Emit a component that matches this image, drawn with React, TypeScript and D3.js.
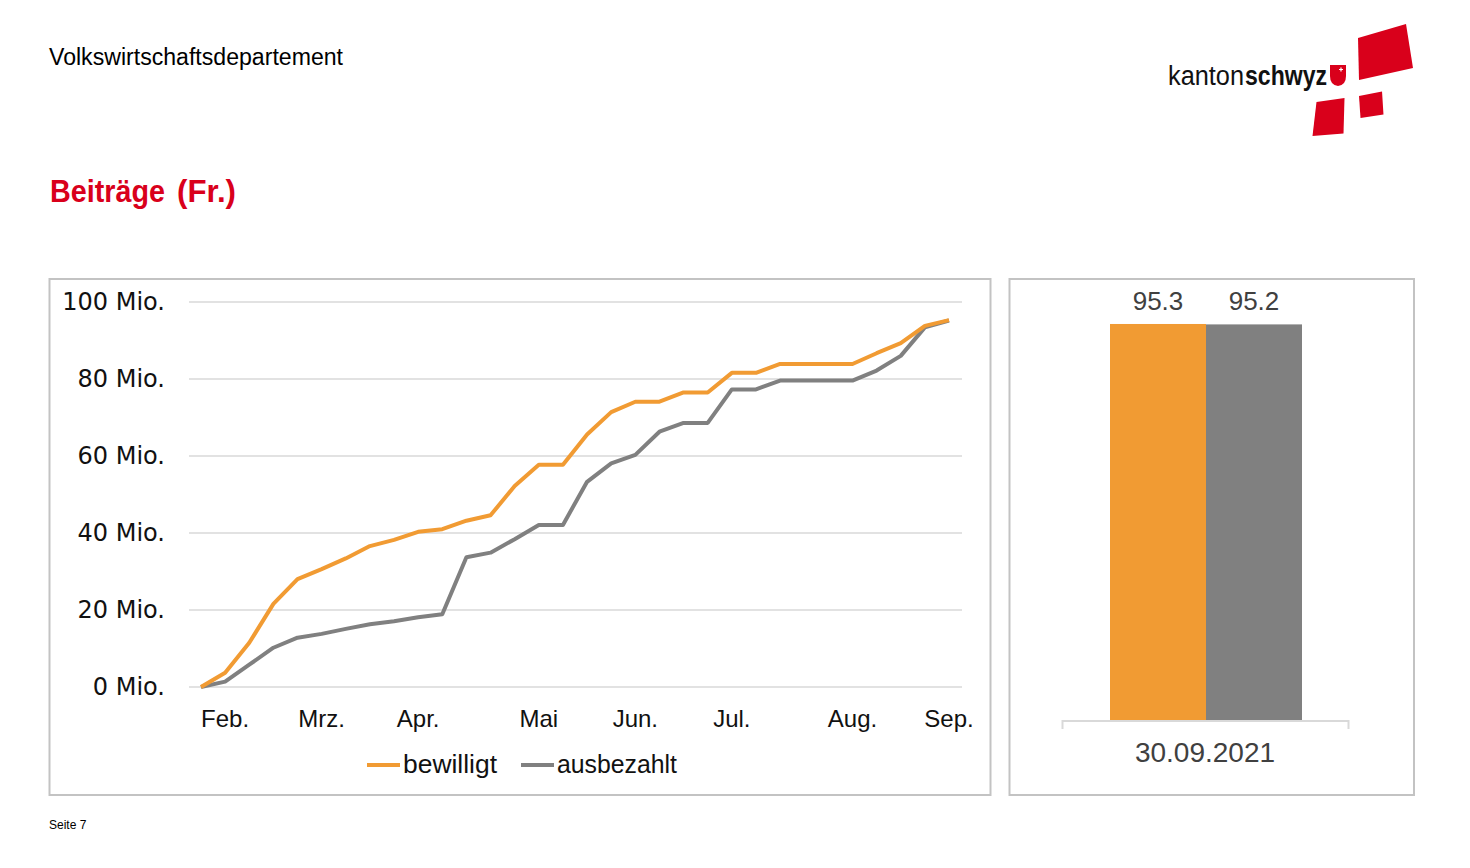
import React from 'react'
import * as d3 from 'd3'

// kumulierte Beiträge in Mio. Fr., wöchentlich
const bewilligt = [0, 3.7, 11.5, 21.6, 28.0, 30.6, 33.4, 36.6, 38.2, 40.3, 41.0, 43.2, 44.6, 52.2, 57.7, 57.7,
    65.6, 71.4, 74.1, 74.1, 76.5, 76.5, 81.6, 81.6, 83.9, 83.9, 83.9, 83.9, 86.7, 89.3, 93.8, 95.3]
const ausbezahlt = [0, 1.4, 5.8, 10.2, 12.8, 13.8, 15.1, 16.3, 17.1, 18.1, 18.9, 33.7, 34.9, 38.4, 42.1, 42.1,
    53.3, 58.1, 60.3, 66.3, 68.6, 68.6, 77.3, 77.3, 79.6, 79.6, 79.6, 79.6, 82.2, 86.0, 93.4, 95.2]

const monthLabels = ['Feb.', 'Mrz.', 'Apr.', 'Mai', 'Jun.', 'Jul.', 'Aug.', 'Sep.']
const monthTickIndex = [1, 5, 9, 14, 18, 22, 27, 31]
const yTicks = [0, 20, 40, 60, 80, 100]

const seriesNames = ['bewilligt', 'ausbezahlt']
const totals = [95.3, 95.2]
const totalDate = '30.09.2021'

const ORANGE = '#f19b33'
const GRAY = '#808080'
const GRID = '#d9d9d9'
const BORDER = '#c3c3c3'
const RED = '#d9001b'

const sans = '"Liberation Sans", Arial, sans-serif'

const App = () => {
    const x = d3.scaleLinear().domain([0, bewilligt.length - 1]).range([201, 949])
    const y = d3.scaleLinear().domain([0, 100]).range([687, 302])

    const line = d3.line<number>()
        .x((d, i) => x(i))
        .y(d => y(d))

    const bx = d3.scaleBand().domain(seriesNames).range([1110, 1302]).padding(0)
    const by = d3.scaleLinear().domain([0, 100]).range([721, 304.4])
    const colors = [ORANGE, GRAY]

    return (
        <svg width={1470} height={868} style={{ position: 'absolute', left: 0, top: 0, background: '#fff' }}>
            {/* Kopfzeile */}
            <text x={49} y={65} fontFamily={sans} fontSize={23} fill="#000"
                textLength={294} lengthAdjust="spacingAndGlyphs">Volkswirtschaftsdepartement</text>
            <text x={50} y={202} fontFamily={sans} fontSize={31} fontWeight="bold" fill={RED}
                textLength={115} lengthAdjust="spacingAndGlyphs">Beiträge</text>
            <text x={177} y={202} fontFamily={sans} fontSize={31} fontWeight="bold" fill={RED}
                textLength={59} lengthAdjust="spacingAndGlyphs">(Fr.)</text>

            {/* Logo */}
            <text x={1168} y={85} fontFamily={sans} fontSize={27} fill="#111"
                textLength={76} lengthAdjust="spacingAndGlyphs">kanton</text>
            <text x={1245} y={85} fontFamily={sans} fontSize={27} fontWeight="bold" fill="#111"
                textLength={82} lengthAdjust="spacingAndGlyphs">schwyz</text>
            <path d="M1330,65 L1346,65 L1346,76 Q1346,85 1338,86 Q1330,85 1330,76 Z" fill={RED} />
            <path d="M1341,67.5 L1341,71.5 M1339,69.5 L1343,69.5" stroke="#fff" strokeWidth={1.2} />
            <polygon points="1358,38 1406,24 1413,68 1359,80" fill={RED} />
            <polygon points="1316.5,102 1344.5,98 1343.5,133.5 1312.5,136" fill={RED} />
            <polygon points="1359,96 1382,91.5 1383.5,114.5 1360.5,118" fill={RED} />

            {/* Linienchart */}
            <rect x={49.5} y={279} width={941} height={516} fill="none" stroke={BORDER} strokeWidth={2} />
            {yTicks.map(t => (
                <g key={t}>
                    <line x1={189} x2={962} y1={y(t)} y2={y(t)} stroke={GRID} strokeWidth={1.5} />
                    <text x={165} y={y(t) - 1} dy="0.36em" textAnchor="end"
                        fontFamily='"DejaVu Sans", Verdana, sans-serif' fontSize={24} fill="#111">{t} Mio.</text>
                </g>
            ))}
            {monthTickIndex.map((idx, k) => (
                <text key={idx} x={x(idx)} y={727} textAnchor="middle" fontFamily={sans} fontSize={24} fill="#111">
                    {monthLabels[k]}
                </text>
            ))}
            <path d={line(ausbezahlt) || ''} fill="none" stroke={GRAY} strokeWidth={4} strokeLinejoin="round" />
            <path d={line(bewilligt) || ''} fill="none" stroke={ORANGE} strokeWidth={4} strokeLinejoin="round" />

            {/* Legende */}
            <line x1={367} x2={400} y1={765} y2={765} stroke={ORANGE} strokeWidth={4} />
            <text x={403} y={773} fontFamily={sans} fontSize={25} fill="#111"
                textLength={94} lengthAdjust="spacingAndGlyphs">{seriesNames[0]}</text>
            <line x1={521} x2={554} y1={765} y2={765} stroke={GRAY} strokeWidth={4} />
            <text x={557} y={773} fontFamily={sans} fontSize={25} fill="#111"
                textLength={120} lengthAdjust="spacingAndGlyphs">{seriesNames[1]}</text>

            {/* Säulen */}
            <rect x={1009.5} y={279} width={404.5} height={516} fill="none" stroke={BORDER} strokeWidth={2} />
            {seriesNames.map((s, i) => (
                <g key={s}>
                    <rect x={bx(s)} y={by(totals[i])} width={bx.bandwidth()} height={by(0) - by(totals[i])} fill={colors[i]} />
                    <text x={(bx(s) || 0) + bx.bandwidth() / 2} y={310} textAnchor="middle"
                        fontFamily={sans} fontSize={26} fill="#404040">{totals[i].toFixed(1)}</text>
                </g>
            ))}
            <path d="M1062.5,729 L1062.5,721 L1348.5,721 L1348.5,729" fill="none" stroke={GRID} strokeWidth={2} />
            <text x={1205} y={762} textAnchor="middle" fontFamily={sans} fontSize={28} fill="#404040">{totalDate}</text>

            <text x={49} y={829} fontFamily={sans} fontSize={12} fill="#000">Seite 7</text>
        </svg>
    )
}

export default App
